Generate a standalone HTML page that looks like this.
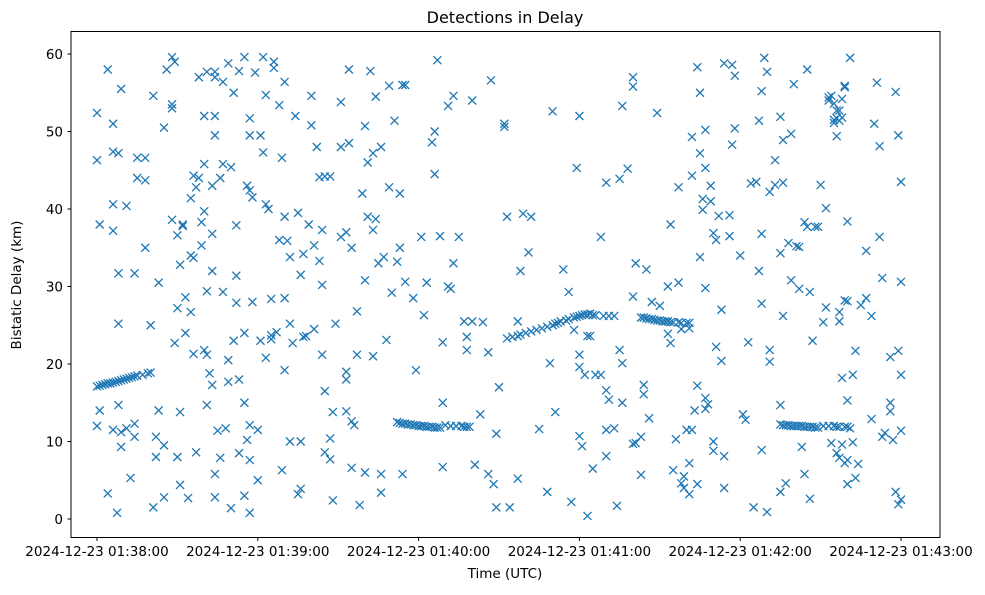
<!DOCTYPE html>
<html><head><meta charset="utf-8"><style>
body{margin:0;background:#fff}
svg text{font-family:"DejaVu Sans","Liberation Sans",sans-serif;fill:#000}
</style></head><body>
<svg id="chart" width="985" height="590" viewBox="0 0 985 590" xmlns="http://www.w3.org/2000/svg">
<rect width="985" height="590" fill="#fff"/>
<text x="505" y="23" font-size="16" text-anchor="middle">Detections in Delay</text>
<g id="marks"></g>
<rect x="71" y="31.5" width="869" height="506" fill="none" stroke="#000" stroke-width="1"/>
<g id="xaxis"></g>
<g id="yaxis"></g>
<text x="505" y="578" font-size="13.5" text-anchor="middle">Time (UTC)</text>
<text x="21" y="285" font-size="13.5" text-anchor="middle" transform="rotate(-90 21 285)">Bistatic Delay (km)</text>
</svg>
<script>
const xTickSeconds=[0,60,120,180,240,300];
const xTickLabels=["2024-12-23 01:38:00","2024-12-23 01:39:00","2024-12-23 01:40:00","2024-12-23 01:41:00","2024-12-23 01:42:00","2024-12-23 01:43:00"];
const yTicks=[0,10,20,30,40,50,60];
const trackTimes=[0,1,2,3,4,5,6,7,8,9,10,11,12,13,14,15,17,19,20,
112,113,114,115,116,117,118,119,120,121,122,123,124,125,126,127,128,130,132,134,136,137,138,139,
153,155,157,158,160,162,164,166,168,170,171,172,173,175,176,178,179,180,181,182,183,184,185,186,189,191,193,
203,204,205,206,207,208,209,210,211,212,213,214,215,217,218,220,221,
255,256,257,258,259,260,261,262,263,264,265,266,267,268,269,271,273,275,276,277,279,280];
const trackDelays=[17.1,17.2,17.3,17.4,17.5,17.5,17.6,17.7,17.8,17.9,18,18.1,18.2,18.3,18.4,18.5,18.6,18.8,18.9,
12.5,12.4,12.3,12.3,12.2,12.2,12.1,12.1,12,12,12,11.9,11.9,11.9,11.8,11.8,11.8,12.1,12,12,12,11.9,11.9,11.9,
23.3,23.5,23.6,23.8,24,24.2,24.4,24.6,24.8,25,25.2,25.3,25.5,25.6,25.8,26,26.1,26.2,26.3,26.4,26.4,26.5,26.3,26.3,26.2,26.2,26.2,
26,26,25.9,25.8,25.8,25.7,25.6,25.6,25.5,25.5,25.5,25.4,25.4,25.4,25.3,25.3,25.3,
12.2,12.1,12.1,12.1,12,12,12,12,12,11.9,11.9,11.9,11.9,11.8,11.8,12,12,12,11.9,11.9,11.9,11.9];
const noiseTimes=[0,0,0,1,1,4,4,6,6,6,6,6,7.5,8,8,8,9,9,8,9,11,11,12.5,14,14,14,15,15,18,18,18,20,21,21,23,22,22,23,25,25,25,26,28,28,28,29,28,29,30,30,30,31,31,31,32,32,33,33,34,35,35,35,36,36,36,37,37,38,38,39,39,40,40,40,40,41,41,41,42,41,43,43,43,43,44,44,44,44,44,44,45,46,46,47,47,47,48,49,49,49,50,50,51,51,52,52,52,53,53,53,55,55,55,55,56,56,57,57,57,57,57,57,58,58,59,60,60,61,61,62,62,63,63,63,64,65,65,65,66,66,67,68,68,69,69,70,70,70,70,71,72,72,72,73,74,75,75,76,76,76,77,77,78,79,80,81,80,81,82,83,83,84,84,84,85,85,85,87,87,87,88,88,89,91,91,91,93,93,93,93,94,94,95,95,95,96,97,97,98,99,100,100,100,101,101,102,103,103,103,104,104,105,106,106,106,107,108,109,109,110,112,111,113,113,114,114,115,115,118,119,121,122,123,125,126,126,127,129,129,128,129,131,131,132,133,133,135,137,138,138,140,140,141,143,144,146,146,147,148,149,149,150,152,152,153,154,157,157,158,159,161,162,165,168,169,170,171,174,176,177,178,179,180,180,180,180,181,182,183,183,184,185,186,188,188,190,190,190,190,191,193,194,195,195,196,196,196,198,200,200,200,200,201,201,203,203,204,204,205,206,207,209,210,213,213,214,214,215,216,217,217,218,219,218,219,220,221,221,221,222,222,222,223,224,224,224,225,225,225,226,226,227,227,227,228,227,227,229,229,230,230,230,231,231,232,233,233,234,234,234,236,236,237,237,238,238,240,241,242,243,244,245,246,247,247,248,248,248,248,249,250,250,251,251,251,253,253,255,255,255,255,256,256,256,257,258,259,259,260,261,262,262,263,264,264,265,265,266,266,267,268,269,270,271,272,272,273,274,275,276,277,278,277,279,280,281,280,282,283,284,285,287,287,289,289,290,291,292,292,293,293,294,296,296,297,298,299,300,300,300,299,299,300,300,296,298,
273,275,276,276,277,278,279,278,275,277,279,280,274,276,277,278,279,280,281,282,283,280,277];
const noiseDelays=[52.4,46.3,12,38,14,3.3,58,51,47.4,40.6,37.2,11.5,0.8,47.2,31.7,25.2,55.5,11.2,14.7,9.3,40.4,11.7,5.3,31.7,12.3,10.6,46.6,44,46.6,35,43.7,25,54.6,1.5,30.5,10.6,8,14,9.5,50.5,2.8,58,53.5,53,59.6,59,38.6,22.7,27.2,8,36.6,32.8,4.4,13.8,38,37.8,24,28.6,2.7,34,41.4,26.7,21.3,44.3,33.7,42.8,8.6,57,44,38.3,35.3,21.8,39.7,45.8,52,29.4,14.7,57.7,18.8,21.2,43,36.8,32,17.3,5.8,52,49.5,57.7,2.8,57,11.4,7.9,44,56.4,29.3,45.8,11.7,58.8,20.5,17.7,45.4,1.4,23,55,31.4,37.9,27.9,18,8.5,57.8,59.6,15,3,24,10.2,43,42.4,49.5,7.6,0.8,12.1,51.7,28,41.5,57.6,11.5,5,23,49.5,47.3,59.6,54.7,40.6,20.8,40,28.4,23.2,23.7,59,58.2,24.1,36,53.4,6.3,46.6,56.4,39,19.2,28.5,35.9,10,25.2,33.8,22.7,52,3.2,39.5,31.5,3.9,10,23.5,34.2,23.6,38,54.6,35.3,50.8,24.5,48,33.3,44.1,37.3,30.2,21.2,16.5,8.6,44.2,7.7,10.4,44.2,13.8,2.4,25.2,53.8,36.4,48,19,37,13.9,18,48.5,58,35,12.6,6.6,12.1,21.2,26.8,1.8,42,6,30.8,50.7,39,46,57.8,37.3,21,47.2,54.5,38.7,33,3.4,48,5.8,33.8,23.1,55.9,42.8,29.2,33.2,51.4,42,35,5.8,56,30.6,56,28.5,19.2,36.4,26.3,30.5,48.6,44.5,50,59.2,22.8,6.7,36.5,15,30,53.3,29.7,33,54.6,36.4,25.5,23.5,21.8,54,25.5,7,13.5,25.4,21.5,5.8,56.6,4.5,1.5,11,17,51,50.6,39,1.5,5.2,25.5,32,39.4,34.4,39,11.6,3.5,20.1,52.6,13.8,32.2,29.3,2.2,24.4,45.3,52,21.2,10.7,19.6,9.4,18.6,0.4,23.6,23.6,6.5,18.6,18.6,36.4,43.4,8.1,11.5,16.6,15.4,11.7,1.7,43.9,21.8,53.3,20.1,15,45.2,28.7,9.7,55.8,57,33,9.8,5.7,10.6,17.3,16.1,32.2,13,28,52.4,27.5,30,23.9,22.7,38,6.3,10.3,30.5,42.8,24.5,5.5,4.6,4,11.5,3.2,7.2,24.6,49.3,44.3,11.5,14,58.3,17.2,4.5,33.8,47.2,55,41.3,39.9,45.3,29.8,50.2,14.8,14.2,15.6,43,41,36.9,8.8,10,22.2,36,39.1,27,20.4,8.1,4,58.8,39.2,36.5,58.6,48.3,57.2,50.4,34,13.5,12.8,22.8,43.3,1.5,43.5,51.4,32,55.2,8.9,36.8,27.8,59.5,0.9,57.7,21.8,20.3,42.2,43.1,46.3,34.3,3.5,14.7,51.9,43.4,48.9,26.2,4.6,35.6,49.7,30.8,56.1,35.2,29.7,35.1,9.3,5.8,38.3,58,37.7,29.3,2.6,23,37.7,37.7,43.1,25.4,27.3,40.1,54,54.6,51.1,49.4,25.5,18.2,26.7,28.2,38.4,59.5,28.1,18.6,21.7,7.1,27.6,28.5,34.6,12.9,26.2,51,56.3,36.4,48.1,10.6,31.1,11.1,13.9,20.9,10.2,3.5,49.5,43.5,30.6,2.5,1.9,21.7,18.6,11.4,15,
55.1,54.4,53.6,52.7,51.7,52.7,54.2,55.7,51.8,51.5,51.4,55.9,15.3,9.8,8.5,7.9,9.6,7.2,7.6,11.7,9.9,5.3,4.5];

const X0=97, PXS=(901-97)/300, Y0=519, PXK=(519-54)/60;
const xs=t=>X0+t*PXS, ys=d=>Y0-d*PXK;
const NS="http://www.w3.org/2000/svg";
const marks=document.getElementById('marks');
function mark(t,d){
  const x=xs(t),y=ys(d),r=4;
  const p=document.createElementNS(NS,'path');
  p.setAttribute('d',`M${x-r},${y-r}L${x+r},${y+r}M${x-r},${y+r}L${x+r},${y-r}`);
  p.setAttribute('stroke','#1f77b4');p.setAttribute('stroke-width','1.3');p.setAttribute('fill','none');
  
  
  marks.appendChild(p);
}
trackTimes.forEach((t,i)=>mark(t,trackDelays[i]));
noiseTimes.forEach((t,i)=>mark(t,noiseDelays[i]));
const xa=document.getElementById('xaxis');
xTickSeconds.forEach((s,i)=>{
  const x=xs(s);
  const l=document.createElementNS(NS,'line');
  l.setAttribute('x1',x);l.setAttribute('x2',x);l.setAttribute('y1',537.5);l.setAttribute('y2',541);l.setAttribute('stroke','#000');
  
  
  xa.appendChild(l);
  const tx=document.createElementNS(NS,'text');
  tx.setAttribute('x',x);tx.setAttribute('y',556);tx.setAttribute('font-size','13.5');tx.setAttribute('text-anchor','middle');
  tx.textContent=xTickLabels[i];
  
  
  xa.appendChild(tx);
});
const ya=document.getElementById('yaxis');
yTicks.forEach(v=>{
  const y=ys(v);
  const l=document.createElementNS(NS,'line');
  l.setAttribute('x1',67.5);l.setAttribute('x2',71);l.setAttribute('y1',y);l.setAttribute('y2',y);l.setAttribute('stroke','#000');
  
  
  ya.appendChild(l);
  const tx=document.createElementNS(NS,'text');
  tx.setAttribute('x',63);tx.setAttribute('y',y+5);tx.setAttribute('font-size','13.5');tx.setAttribute('text-anchor','end');
  tx.textContent=v;
  
  
  ya.appendChild(tx);
});
</script>
</body></html>
